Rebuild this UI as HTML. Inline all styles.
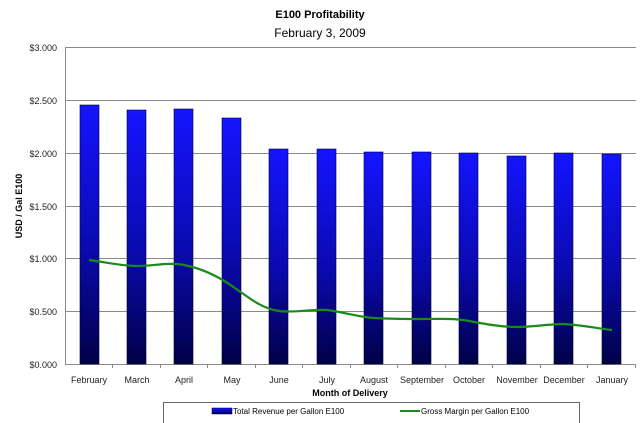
<!DOCTYPE html>
<html><head><style>body{margin:0;background:#fff}svg{display:block}</style></head><body>
<svg width="640" height="423" xmlns="http://www.w3.org/2000/svg" font-family="Liberation Sans, sans-serif">
<defs><linearGradient id="g" x1="0" y1="0" x2="0" y2="1"><stop offset="0" stop-color="#1414ff"/><stop offset="0.55" stop-color="#0a0ab0"/><stop offset="1" stop-color="#000048"/></linearGradient></defs>
<rect width="640" height="423" fill="#fff"/>
<text x="320" y="18" font-size="11" font-weight="bold" text-anchor="middle">E100 Profitability</text>
<text x="320" y="37" font-size="12" text-anchor="middle">February 3, 2009</text>
<g stroke="#8a8a8a" stroke-width="1">
<line x1="65" y1="47.5" x2="636" y2="47.5"/><line x1="65" y1="100.5" x2="636" y2="100.5"/><line x1="65" y1="153.5" x2="636" y2="153.5"/><line x1="65" y1="206.5" x2="636" y2="206.5"/><line x1="65" y1="258.5" x2="636" y2="258.5"/><line x1="65" y1="311.5" x2="636" y2="311.5"/><line x1="65" y1="364.5" x2="636" y2="364.5"/>
<line x1="65.5" y1="47" x2="65.5" y2="365"/>
<path d="M112.5,364v4M160.5,364v4M207.5,364v4M255.5,364v4M302.5,364v4M350.5,364v4M397.5,364v4M445.5,364v4M492.5,364v4M540.5,364v4M587.5,364v4M635.5,364v4"/>
</g>
<g font-size="9" fill="#222" text-anchor="end">
<text x="57" y="51">$3.000</text><text x="57" y="104">$2.500</text><text x="57" y="157">$2.000</text><text x="57" y="210">$1.500</text><text x="57" y="262">$1.000</text><text x="57" y="315">$0.500</text><text x="57" y="368">$0.000</text>
</g>
<text transform="translate(22,206) rotate(-90)" font-size="9" font-weight="bold" text-anchor="middle">USD / Gal E100</text>
<g fill="url(#g)" stroke="#000030" stroke-width="0.6">
<rect x="80" y="105" width="19" height="259"/>
<rect x="127" y="110" width="19" height="254"/>
<rect x="174" y="109" width="19" height="255"/>
<rect x="222" y="118" width="19" height="246"/>
<rect x="269" y="149" width="19" height="215"/>
<rect x="317" y="149" width="19" height="215"/>
<rect x="364" y="152" width="19" height="212"/>
<rect x="412" y="152" width="19" height="212"/>
<rect x="459" y="153" width="19" height="211"/>
<rect x="507" y="156" width="19" height="208"/>
<rect x="554" y="153" width="19" height="211"/>
<rect x="602" y="154" width="19" height="210"/>
</g>
<path d="M89,260 C105,262 121,266 137,266 C153,266 169,262 184,265 C200,268 216,275 232,286 C248,297 262,309 279,311 C295,313 311,309 327,310 C343,312 358,317 374,318 C390,319 406,319 422,319 C438,319 454,318 469,321 C485,324 501,327 517,327 C533,327 548,324 564,324 C580,325 596,328 612,330" fill="none" stroke="#1a8a1a" stroke-width="2.2"/>
<g font-size="9" fill="#222" text-anchor="middle">
<text x="89" y="383">February</text><text x="137" y="383">March</text><text x="184" y="383">April</text><text x="232" y="383">May</text><text x="279" y="383">June</text><text x="327" y="383">July</text><text x="374" y="383">August</text><text x="422" y="383">September</text><text x="469" y="383">October</text><text x="517" y="383">November</text><text x="564" y="383">December</text><text x="612" y="383">January</text>
</g>
<text x="350" y="396" font-size="9" font-weight="bold" text-anchor="middle">Month of Delivery</text>
<rect x="163.5" y="402.5" width="416" height="30" fill="#fff" stroke="#666"/>
<rect x="212" y="408" width="20" height="6" fill="url(#g)" stroke="#000030" stroke-width="0.5"/>
<text x="233" y="414" font-size="8">Total Revenue per Gallon E100</text>
<line x1="400" y1="411" x2="420" y2="411" stroke="#1a8a1a" stroke-width="2"/>
<text x="421" y="414" font-size="8">Gross Margin per Gallon E100</text>
</svg>
</body></html>
